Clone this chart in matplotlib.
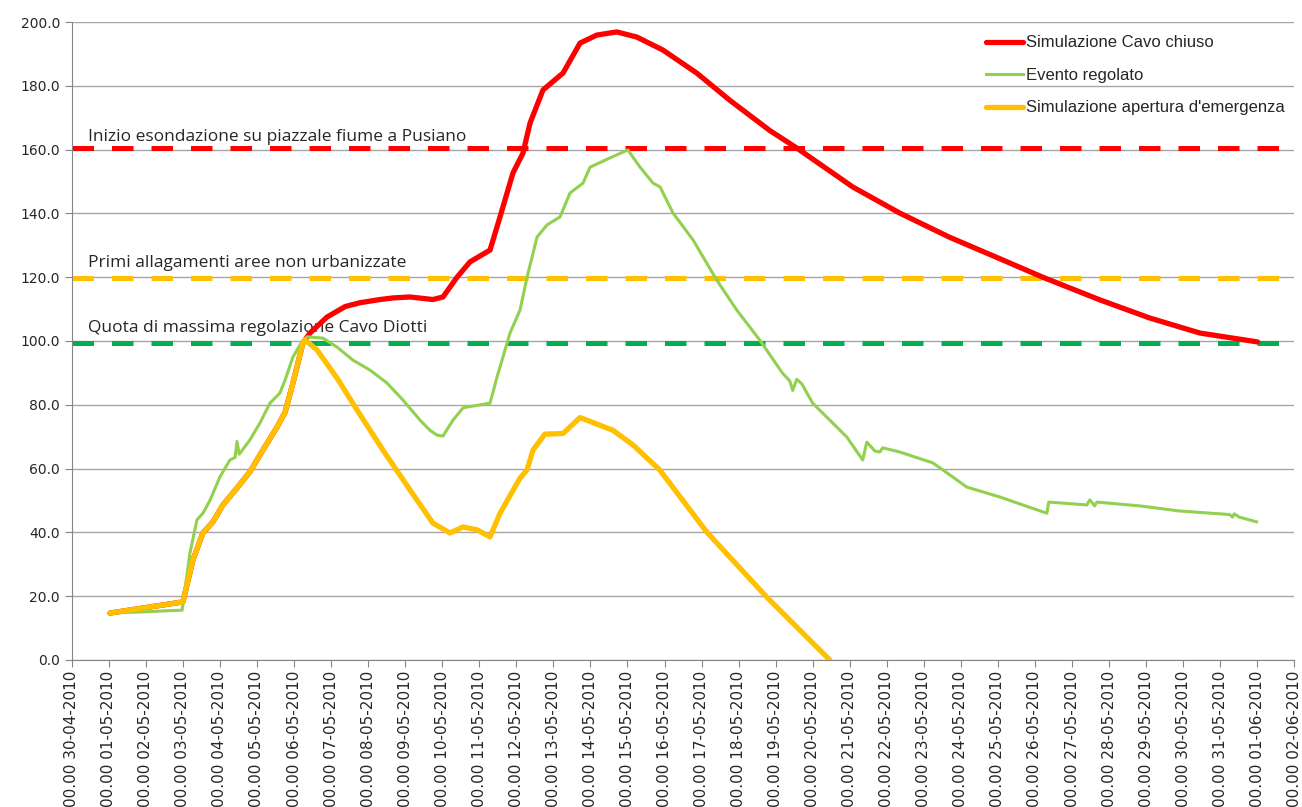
import matplotlib
matplotlib.use("Agg")
import matplotlib.pyplot as plt
import pandas as pd

# x values are days since 30-04-2010 00.00
start = pd.Timestamp("2010-04-30")
n_days = 33

red_x = [1.03, 3.00, 3.27, 3.54, 3.81, 4.08, 4.46, 4.81, 5.16, 5.54, 5.76, 5.97, 6.24,
         6.43, 6.89, 7.38, 7.78, 8.32, 8.67, 9.13, 9.75, 10.02, 10.40, 10.75, 11.29,
         11.56, 11.91, 12.18, 12.37, 12.72, 13.26, 13.72, 14.17, 14.71, 15.25, 15.96,
         16.87, 17.76, 18.84, 19.57, 21.08, 22.35, 23.70, 25.05, 26.21, 27.75, 29.10,
         30.45, 32.01]
red_y = [14.7, 18.2, 31.3, 39.8, 43.3, 48.6, 53.9, 59.0, 65.8, 73.0, 77.7, 86.8, 99.4,
         102.5, 107.5, 110.8, 112.0, 113.0, 113.5, 113.8, 113.0, 113.8, 120.0, 124.8, 128.5,
         138.9, 152.7, 158.9, 168.3, 178.7, 184.0, 193.4, 195.9, 196.9, 195.3, 191.2,
         184.0, 175.5, 166.0, 160.5, 148.3, 140.1, 132.5, 125.8, 120.0, 112.9, 107.2,
         102.5, 99.7]

green_x = [1.03, 1.5, 2.0, 2.5, 2.98, 3.19, 3.38, 3.54, 3.73, 4.00, 4.27, 4.41, 4.46,
           4.52, 4.81, 5.08, 5.35, 5.62, 5.76, 5.97, 6.21, 6.35, 6.78, 7.16, 7.59, 8.05,
           8.51, 8.94, 9.40, 9.67, 9.86, 10.02, 10.29, 10.56, 10.67, 11.29, 11.48, 11.83,
           12.10, 12.29, 12.56, 12.83, 13.18, 13.45, 13.80, 13.99, 14.53, 15.01, 15.34,
           15.69, 15.88, 16.23, 16.77, 17.41, 17.95, 18.57, 19.18, 19.38, 19.46, 19.57,
           19.71, 20.00, 20.46, 20.92, 21.35, 21.46, 21.68, 21.81, 21.89, 22.35, 23.24,
           23.51, 24.16, 25.05, 26.32, 26.37, 27.40, 27.48, 27.61, 27.67, 28.83, 29.91,
           31.25, 31.33, 31.38, 31.51, 31.98]
green_y = [14.8, 14.9, 15.1, 15.4, 15.6, 33.5, 43.9, 46.0, 50.0, 57.4, 62.7, 63.5, 68.5,
           64.5, 69.0, 74.3, 80.5, 83.7, 87.8, 95.0, 99.7, 101.3, 100.9, 98.1, 94.0, 90.9,
           86.8, 81.5, 75.2, 72.0, 70.5, 70.2, 75.2, 79.0, 79.3, 80.5, 88.7, 102.5,
           109.7, 120.0, 132.6, 136.4, 138.9, 146.4, 149.5, 154.5, 157.4, 159.9, 154.5,
           149.5, 148.3, 140.1, 131.7, 119.1, 109.7, 100.3, 90.0, 87.5, 84.5, 88.0,
           86.5, 80.5, 75.2, 69.9, 62.7, 68.3, 65.5, 65.2, 66.5, 65.2, 61.8,
           59.6, 54.2, 51.1, 46.0, 49.5, 48.6, 50.2, 48.3, 49.5, 48.3, 46.7,
           45.6, 44.8, 45.8, 44.8, 43.3]

yellow_x = [1.03, 3.00, 3.27, 3.54, 3.81, 4.08, 4.46, 4.81, 5.16, 5.54, 5.76, 5.97, 6.24,
            6.30, 6.62, 7.16, 7.70, 8.40, 9.13, 9.75, 10.21, 10.56, 10.94, 11.29, 11.56,
            12.10, 12.29, 12.45, 12.77, 13.26, 13.72, 14.61, 15.15, 15.87, 17.14, 18.76,
            20.46]
yellow_y = [14.7, 18.2, 31.3, 39.8, 43.3, 48.6, 53.9, 59.0, 65.8, 73.0, 77.7, 86.8, 99.4,
            100.3, 97.2, 88.4, 78.4, 65.8, 53.3, 42.9, 39.8, 41.7, 40.8, 38.6, 46.0,
            57.0, 59.6, 65.8, 70.8, 71.0, 76.0, 72.0, 67.4, 59.6, 40.1, 19.7,
            0.0]

thresholds = [160.5, 119.8, 99.4]
threshold_colors = ["#FF0000", "#FFC000", "#00B050"]
threshold_labels = ["Inizio esondazione su piazzale fiume a Pusiano",
                    "Primi allagamenti aree non urbanizzate",
                    "Quota di massima regolazione Cavo Diotti"]
label_y = [162.6, 123.2, 102.8]

tick_days = list(range(n_days + 1))
tick_labels = ["00.00 " + d.strftime("%d-%m-%Y")
               for d in pd.date_range(start, periods=n_days + 1, freq="D")]

fig = plt.figure(figsize=(13.02, 8.07), dpi=100)
ax = fig.add_axes([0.0551, 0.1822, 0.9390, 0.7905])

ax.yaxis.grid(True, color="#A6A6A6", linewidth=1.0, zorder=0)
ax.set_axisbelow(True)

for yv, col in zip(thresholds, threshold_colors):
    ax.axhline(yv, color=col, linewidth=3.6, dashes=(4.3, 3.6), zorder=1)
for txt, yv in zip(threshold_labels, label_y):
    ax.text(0.44, yv, txt, fontsize=12.5, family="Open Sans",
            color="#262626", va="baseline", ha="left", zorder=2)

ax.plot(red_x, red_y, color="#FF0000", linewidth=3.8, label="Simulazione Cavo chiuso",
        solid_capstyle="round", zorder=3)
ax.plot(green_x, green_y, color="#92D050", linewidth=2.2, label="Evento regolato", zorder=4)
ax.plot(yellow_x, yellow_y, color="#FFC000", linewidth=3.8,
        label="Simulazione apertura d'emergenza", solid_capstyle="round", zorder=5)

ax.set_xlim(0, n_days)
ax.set_ylim(0, 200)
ax.set_yticks(range(0, 201, 20))
ax.set_yticklabels([f"{v:.1f}" for v in range(0, 201, 20)])
ax.set_xticks(tick_days)
ax.set_xticklabels(tick_labels, rotation=90, va="top", ha="center")
ax.tick_params(axis="both", direction="out", length=5, color="#868686",
               labelsize=10, labelcolor="#262626")
ax.tick_params(axis="x", pad=3, labelsize=11)

for s in ["top", "right"]:
    ax.spines[s].set_visible(False)
for s in ["left", "bottom"]:
    ax.spines[s].set_color("#868686")

leg = ax.legend(loc="upper left", bbox_to_anchor=(0.741, 0.992), frameon=False,
                prop={"family": "Liberation Sans", "size": 12},
                handlelength=2.2, handletextpad=0.2, labelspacing=1.05, borderpad=0)
for t in leg.get_texts():
    t.set_color("#262626")

fig.savefig("out.png", dpi=100)
